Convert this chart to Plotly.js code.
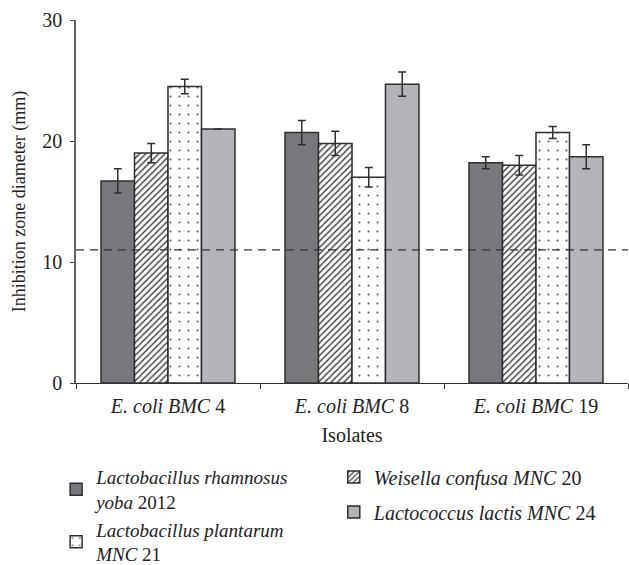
<!DOCTYPE html>
<html>
<head>
<meta charset="utf-8">
<script src="https://cdn.plot.ly/plotly-3.0.1.min.js"></script>
<style>html,body{margin:0;padding:0;background:#fff;}#chart{width:629px;height:565px;}</style>
</head>
<body>
<div id="chart"></div>
<script>
const categories = ["<i>E. coli BMC</i> 4", "<i>E. coli BMC</i> 8", "<i>E. coli BMC</i> 19"];
const seriesNames = [
  "<i>Lactobacillus rhamnosus</i><br><i>yoba</i> 2012",
  "<i>Weisella confusa MNC</i> 20",
  "<i>Lactobacillus plantarum</i><br><i>MNC</i> 21",
  "<i>Lactococcus lactis MNC</i> 24"
];
const rhamnosus = [16.7, 20.7, 18.2];
const rhamnosusErr = [1.0, 1.0, 0.5];
const confusa = [19.0, 19.8, 18.0];
const confusaErr = [0.8, 1.0, 0.8];
const plantarum = [24.5, 17.0, 20.7];
const plantarumErr = [0.6, 0.8, 0.5];
const lactis = [21.0, 24.7, 18.7];
const lactisErr = [0, 1.0, 1.0];
const threshold = 11;

const font = "Liberation Serif, Times New Roman, serif";
const edge = {color: "#2e2e2e", width: 1.5};
const err = a => ({type: "data", array: a, visible: true, color: "#2e2e2e", thickness: 1.5, width: 4});

const traces = [
  {type: "bar", name: seriesNames[0], x: categories, y: rhamnosus, error_y: err(rhamnosusErr),
   marker: {color: "#77787c", line: edge}, legend: "legend", legendgroup: "a"},
  {type: "bar", name: seriesNames[1], x: categories, y: confusa, error_y: err(confusaErr),
   marker: {color: "#ffffff", line: edge, pattern: {shape: "/", fgcolor: "#333", bgcolor: "#ffffff", size: 4.5, solidity: 0.3}},
   legend: "legend2", legendgroup: "b"},
  {type: "bar", name: seriesNames[2], x: categories, y: plantarum, error_y: err(plantarumErr),
   marker: {color: "#ffffff", line: edge, pattern: {shape: ".", fgcolor: "#555", bgcolor: "#ffffff", size: 9, solidity: 0.04}},
   legend: "legend", legendgroup: "c"},
  {type: "bar", name: seriesNames[3], x: categories, y: lactis, error_y: err(lactisErr),
   marker: {color: "#b3b4b8", line: edge}, legend: "legend2", legendgroup: "d"}
];

const layout = {
  width: 629, height: 565,
  margin: {l: 76, r: 1, t: 20, b: 182, autoexpand: false},
  paper_bgcolor: "#fff", plot_bgcolor: "#fff",
  font: {family: font, size: 20, color: "#222"},
  barmode: "group", bargap: 0.272, bargroupgap: 0,
  showlegend: true,
  xaxis: {
    showline: true, linecolor: "#333", linewidth: 1,
    ticks: "outside", ticklen: 5, tickcolor: "#333", tickson: "boundaries",
    ticklabelstandoff: 5,
    title: {text: "Isolates", font: {size: 20}, standoff: 11},
    tickfont: {size: 20}
  },
  yaxis: {
    range: [0, 30], dtick: 10, showgrid: false, zeroline: false,
    showline: true, linecolor: "#666", linewidth: 1.5,
    ticks: "outside", ticklen: 4, tickcolor: "#444", ticklabelstandoff: 4,
    title: {text: "Inhibition zone diameter (mm)", font: {size: 18}, standoff: 12},
    tickfont: {size: 20}
  },
  shapes: [{type: "line", xref: "paper", yref: "y", x0: 0, x1: 1, y0: threshold, y1: threshold,
    line: {color: "#333", width: 1.3, dash: "8px,6px"}}],
  legend: {x: -0.036, xanchor: "left", y: -0.207, yanchor: "top", orientation: "v",
    font: {size: 19}, tracegroupgap: 0, bgcolor: "rgba(0,0,0,0)"},
  legend2: {x: 0.467, xanchor: "left", y: -0.205, yanchor: "top", orientation: "v",
    font: {size: 20}, tracegroupgap: 6, bgcolor: "rgba(0,0,0,0)"}
};

Plotly.newPlot("chart", traces, layout, {displayModeBar: false});
</script>
</body>
</html>
